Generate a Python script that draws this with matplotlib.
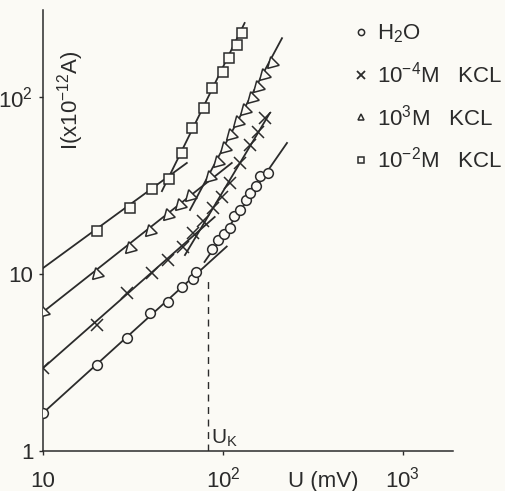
import matplotlib
matplotlib.use('Agg')
import matplotlib.pyplot as plt
from matplotlib.lines import Line2D
from matplotlib.ticker import NullLocator

plt.rcParams['font.family'] = ['Liberation Sans', 'DejaVu Sans']
plt.rcParams['mathtext.default'] = 'regular'

ink = '#2b2b2b'
paper = '#fbfaf5'

# measured points, U in mV, I in 1e-12 A
h2o_u = [10, 20, 29.3, 39.3, 49.5, 59, 68, 71, 87, 93.8, 101, 109, 115, 124, 134, 141, 152, 161, 178]
h2o_i = [1.64, 3.06, 4.35, 6.0, 6.95, 8.4, 9.4, 10.2, 13.8, 15.6, 16.8, 18.2, 21.3, 23.0, 26.2, 28.7, 31.4, 35.8, 37.2]

kcl4_u = [10, 20, 29.3, 40.3, 49.5, 60, 68.1, 77.4, 88, 98.7, 109, 124, 141, 156, 171]
kcl4_i = [2.95, 5.15, 7.8, 10.1, 12.0, 14.2, 17.1, 19.9, 23.6, 27.2, 32.7, 42.4, 53.6, 63.4, 76.1]

kcl3_u = [10, 20, 30.4, 39.3, 49.5, 57.7, 65.6, 84.7, 93.8, 102.6, 110.8, 121, 132.5, 145, 156, 169, 187]
kcl3_i = [6.1, 10.0, 14.0, 17.5, 21.5, 24.5, 27.6, 35.3, 42.9, 51.5, 61, 72.2, 84.5, 98.7, 114, 133, 156]

kcl2_u = [20, 30.4, 40.3, 50.1, 59.2, 67.2, 78.4, 86.9, 100, 108, 119.6, 127.5]
kcl2_i = [17.5, 23.6, 30.2, 34.4, 48.3, 66.8, 86.7, 112, 138, 166, 197, 230]

# fitted straight lines (below / above the knee), end points
h2o_lo_u, h2o_lo_i = [10, 105], [1.64, 14.3]
h2o_hi_u, h2o_hi_i = [79, 227], [11.7, 55]
kcl4_lo_u, kcl4_lo_i = [10, 90], [2.94, 21]
kcl4_hi_u, kcl4_hi_i = [61.5, 182], [12.8, 81]
kcl3_lo_u, kcl3_lo_i = [10, 112], [6.1, 42.4]
kcl3_hi_u, kcl3_hi_i = [65.6, 213], [23, 215]
kcl2_lo_u, kcl2_lo_i = [10, 63], [10.8, 42.4]
kcl2_hi_u, kcl2_hi_i = [45.8, 132], [29.4, 262]

u_knee = 82.6
u_knee_top = 9.6

labels = ['H$_2$O', '10$^{-4}$M   KCL', '10$^{3}$M   KCL', '10$^{-2}$M   KCL']

fig = plt.figure(figsize=(5.06, 4.91), dpi=100, facecolor=paper)
ax = fig.add_axes([0.085, 0.0815, 0.81, 0.898])
ax.set_facecolor(paper)

lw = 1.3
for lu, li in [(h2o_lo_u, h2o_lo_i), (h2o_hi_u, h2o_hi_i),
               (kcl4_lo_u, kcl4_lo_i), (kcl4_hi_u, kcl4_hi_i),
               (kcl3_lo_u, kcl3_lo_i), (kcl3_hi_u, kcl3_hi_i),
               (kcl2_lo_u, kcl2_lo_i), (kcl2_hi_u, kcl2_hi_i)]:
    ax.plot(lu, li, color=ink, lw=lw, zorder=2)

ax.plot(h2o_u, h2o_i, ls='none', marker='o', ms=7, mfc=paper, mec=ink, mew=1.1, zorder=3)
ax.plot(kcl4_u, kcl4_i, ls='none', marker='x', ms=8, mec=ink, mew=1.1, zorder=3)
ax.plot(kcl3_u, kcl3_i, ls='none', marker=(3, 0, 15), ms=10, mfc=paper, mec=ink, mew=1.1, zorder=3)
ax.plot(kcl2_u, kcl2_i, ls='none', marker='s', ms=6.5, mfc=paper, mec=ink, mew=1.1, zorder=3)

ax.plot([u_knee, u_knee], [1, u_knee_top], color=ink, lw=1.0, ls=(0, (5, 4)), zorder=2)
ax.text(u_knee * 1.04, 1.1, 'U$_K$', fontsize=15, color=ink, ha='left', va='baseline')

ax.set_xscale('log')
ax.set_yscale('log')
ax.set_xlim(10, 1897)
ax.set_ylim(1, 310)
ax.set_xticks([10, 100, 1000], ['10', '10$^2$', '10$^3$'])
ax.set_yticks([1, 10, 100], ['1', '10', '10$^2$'])
ax.xaxis.set_minor_locator(NullLocator())
ax.yaxis.set_minor_locator(NullLocator())
ax.tick_params(direction='out', length=3, width=1, colors=ink, labelsize=16)
ax.tick_params(axis='x', pad=23)
ax.tick_params(axis='y', pad=4)
for lab in ax.get_xticklabels():
    lab.set_verticalalignment('baseline')
for s in ['top', 'right']:
    ax.spines[s].set_visible(False)
for s in ['left', 'bottom']:
    ax.spines[s].set_color(ink)
    ax.spines[s].set_linewidth(1.1)

ax.text(0.068, 0.796, 'I(x10$^{-12}$A)', transform=ax.transAxes, rotation=90,
        ha='center', va='center', fontsize=16, color=ink)
ax.annotate('U (mV)', xy=(359, 0), xycoords=('data', 'axes fraction'),
            xytext=(0, -26), textcoords='offset points', ha='center', va='baseline',
            fontsize=16, color=ink)

handles = [
    Line2D([], [], ls='none', marker='o', ms=4.5, mfc=paper, mec=ink, mew=1.1),
    Line2D([], [], ls='none', marker='x', ms=6, mec=ink, mew=1.3),
    Line2D([], [], ls='none', marker='^', ms=4.5, mfc=paper, mec=ink, mew=1.1),
    Line2D([], [], ls='none', marker='s', ms=4.5, mfc=paper, mec=ink, mew=1.1),
]
leg = ax.legend(handles, labels, loc='upper left', bbox_to_anchor=(0.76, 0.972),
                frameon=False, fontsize=16, handlelength=0.6, handletextpad=0.4,
                labelspacing=0.75, borderpad=0, borderaxespad=0)
for t in leg.get_texts():
    t.set_color(ink)

fig.savefig('out.png', dpi=100, facecolor=paper)
